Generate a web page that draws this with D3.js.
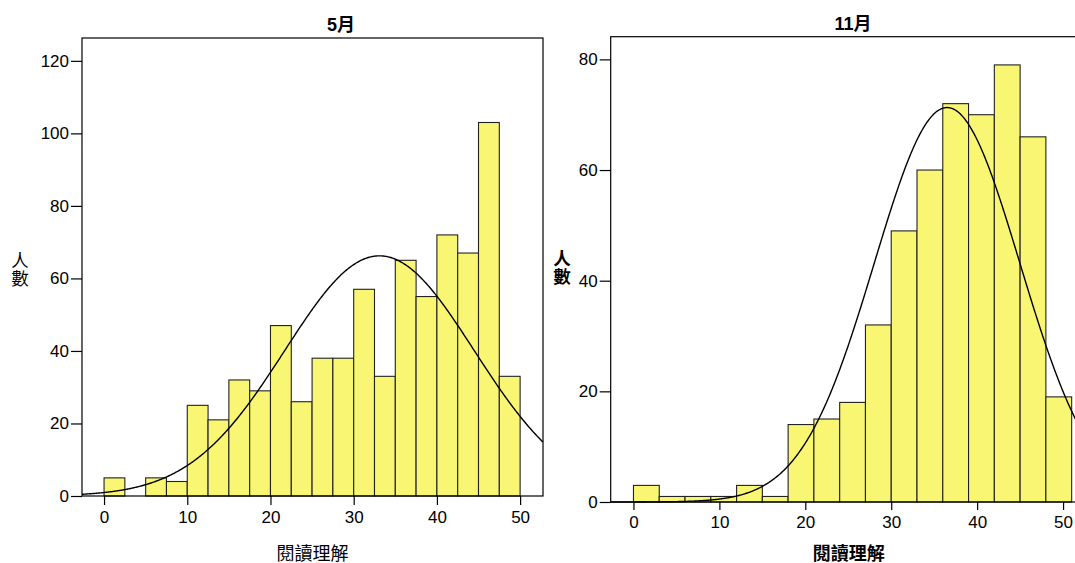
<!DOCTYPE html>
<html>
<head>
<meta charset="utf-8">
<script src="https://cdn.jsdelivr.net/npm/d3@7"></script>
<style>
  html, body { margin: 0; padding: 0; background: #fff; overflow: hidden; }
  text { font-family: "Liberation Sans", Arial, "Noto Sans CJK TC", sans-serif; fill: #000; }
</style>
</head>
<body>
<svg id="chart" width="1075" height="563"></svg>
<script>
// ---- Data ----
const titles = ["5月", "11月"];
const xAxisTitle = "閱讀理解";
const yAxisTitle = ["人", "數"];

// May histogram (bin lower edges, width 2.5)
const mayBinStarts = [0, 2.5, 5, 7.5, 10, 12.5, 15, 17.5, 20, 22.5, 25, 27.5, 30, 32.5, 35, 37.5, 40, 42.5, 45, 47.5];
const mayBinWidth = 2.5;
const mayCounts = [5, 0, 5, 4, 25, 21, 32, 29, 47, 26, 38, 38, 57, 33, 65, 55, 72, 67, 103, 33];
const mayMean = 33.1;
const maySd = 11.37;

// November histogram (bin lower edges, width 3)
const novBinStarts = [0, 3, 6, 9, 12, 15, 18, 21, 24, 27, 30, 33, 36, 39, 42, 45, 48];
const novBinWidth = 3;
const novCounts = [3, 1, 1, 1, 3, 1, 14, 15, 18, 32, 49, 60, 72, 70, 79, 66, 19];
const novMean = 36.5;
const novSd = 8.46;

const xTickValues = [0, 10, 20, 30, 40, 50];
const mayYTicks = [0, 20, 40, 60, 80, 100, 120];
const novYTicks = [0, 20, 40, 60, 80];

// ---- Drawing ----
const svg = d3.select("#chart");
const FILL = "#f9f674";

function panel(cfg) {
  const g = svg.append("g");
  const x = d3.scaleLinear().domain(cfg.xDomain).range([cfg.left, cfg.right]);
  const y = d3.scaleLinear().domain(cfg.yDomain).range([cfg.bottom, cfg.top]);

  const bins = cfg.starts.map((s, i) => ({ x0: s, x1: s + cfg.width, n: cfg.counts[i] }))
                        .filter(d => d.n > 0);

  g.selectAll("rect.bar").data(bins).enter().append("rect")
    .attr("class", "bar")
    .attr("x", d => x(d.x0))
    .attr("y", d => y(d.n))
    .attr("width", d => x(d.x1) - x(d.x0))
    .attr("height", d => y(0) - y(d.n))
    .attr("fill", FILL)
    .attr("stroke", "#222")
    .attr("stroke-width", 1.1);

  // fitted normal curve
  const N = d3.sum(cfg.counts);
  const pdf = v => N * cfg.width / (cfg.sd * Math.sqrt(2 * Math.PI)) *
                   Math.exp(-0.5 * Math.pow((v - cfg.mean) / cfg.sd, 2));
  const xs = d3.range(cfg.xDomain[0], cfg.xDomain[1] + 0.001, 0.1);
  g.append("path")
    .datum(xs)
    .attr("fill", "none")
    .attr("stroke", "#000")
    .attr("stroke-width", 1.4)
    .attr("d", d3.line().x(v => x(v)).y(v => y(pdf(v))));

  // frame
  g.append("rect")
    .attr("x", cfg.left).attr("y", cfg.top)
    .attr("width", cfg.right - cfg.left).attr("height", cfg.bottom - cfg.top)
    .attr("fill", "none").attr("stroke", "#000").attr("stroke-width", 1.2);

  // axes
  const xa = g.append("g").attr("transform", `translate(0,${cfg.bottom})`)
    .call(d3.axisBottom(x).tickValues(xTickValues).tickSize(cfg.xTick).tickPadding(cfg.xPad).tickSizeOuter(0));
  const ya = g.append("g").attr("transform", `translate(${cfg.left},0)`)
    .call(d3.axisLeft(y).tickValues(cfg.yTicks).tickSize(cfg.yTick).tickPadding(cfg.yPad).tickSizeOuter(0));
  [xa, ya].forEach(a => {
    a.select(".domain").remove();
    a.selectAll("line").attr("stroke", "#000").attr("stroke-width", 1.2);
    a.selectAll("text").attr("font-size", 17).attr("font-family", null).attr("fill", "#000");
  });

  // titles
  g.append("text")
    .attr("x", cfg.titleX).attr("y", cfg.titleY)
    .attr("text-anchor", "middle").attr("font-size", 18).attr("font-weight", "bold")
    .text(cfg.title);
  g.append("text")
    .attr("x", (cfg.left + cfg.right) / 2).attr("y", 560)
    .attr("text-anchor", "middle").attr("font-size", 18)
    .attr("font-weight", cfg.bold ? "bold" : "normal")
    .text(xAxisTitle);
  yAxisTitle.forEach((c, i) => {
    g.append("text")
      .attr("x", cfg.yLabelX).attr("y", cfg.yLabelY + i * 18)
      .attr("text-anchor", "middle").attr("font-size", 17.5)
      .attr("font-weight", cfg.bold ? "bold" : "normal")
      .text(c);
  });
}

panel({
  title: titles[0], starts: mayBinStarts, width: mayBinWidth, counts: mayCounts,
  mean: mayMean, sd: maySd,
  xDomain: [-2.65, 52.75], yDomain: [0, 126.3], yTicks: mayYTicks,
  left: 82, right: 543, top: 38, bottom: 496,
  xTick: 9, xPad: 6, yTick: 11, yPad: 2,
  titleX: 341, titleY: 31, yLabelX: 20, yLabelY: 267, bold: false
});

panel({
  title: titles[1], starts: novBinStarts, width: novBinWidth, counts: novCounts,
  mean: novMean, sd: novSd,
  xDomain: [-2.65, 52.75], yDomain: [0, 84.1], yTicks: novYTicks,
  left: 610.7, right: 1086.7, top: 36.7, bottom: 502,
  xTick: 8, xPad: 6, yTick: 11, yPad: 2,
  titleX: 853, titleY: 30, yLabelX: 562, yLabelY: 265, bold: true
});
</script>
</body>
</html>
